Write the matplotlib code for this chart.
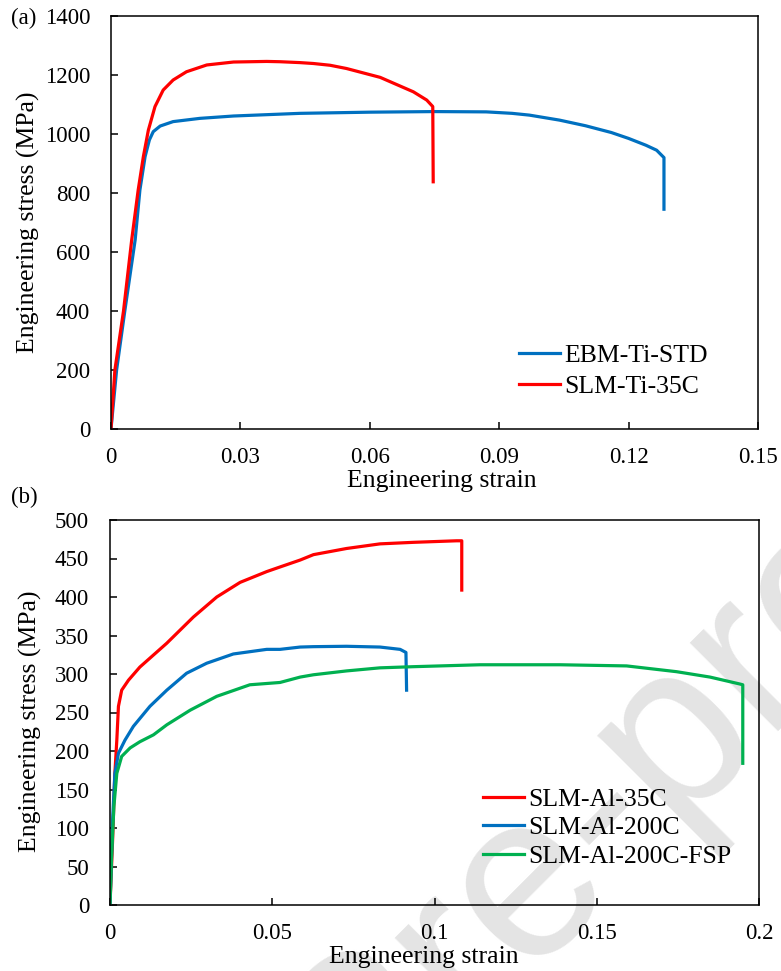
import numpy as np
import matplotlib.pyplot as plt

plt.rcParams['font.family'] = ['Liberation Serif', 'DejaVu Serif']
plt.rcParams['font.size'] = 16.5

# (a) Ti alloys: engineering strain / stress (MPa)
ebm_ti_std_x = [0, 0.0013, 0.0032, 0.0056, 0.0067, 0.0079, 0.0089, 0.0098, 0.0114, 0.0144, 0.0206,
                0.0284, 0.0438, 0.06, 0.075, 0.087, 0.093, 0.097, 0.104, 0.11, 0.116, 0.12, 0.124,
                0.1265, 0.1282, 0.1282]
ebm_ti_std_y = [0, 200, 400, 641, 810, 923, 980, 1008, 1027, 1042, 1053,
                1061, 1070, 1074, 1076, 1075, 1070, 1064, 1047, 1028, 1005, 985, 962,
                945, 920, 745]
slm_ti_35c_x = [0, 0.0009, 0.0029, 0.0048, 0.0063, 0.0075, 0.00866, 0.0102, 0.0121, 0.0144, 0.0175,
                0.0222, 0.0284, 0.0361, 0.0392, 0.0438, 0.0469, 0.0508, 0.0546, 0.0624, 0.0701,
                0.0732, 0.0746, 0.0747]
slm_ti_35c_y = [0, 200, 400, 641, 810, 923, 1013, 1093, 1149, 1183, 1211,
                1234, 1244, 1246, 1245, 1242, 1239, 1233, 1222, 1192, 1143,
                1115, 1093, 838]

# (b) Al alloys
slm_al_35c_x = [0, 0.0008, 0.0015, 0.0021, 0.0026, 0.0036, 0.0057, 0.0092, 0.0175, 0.0257, 0.0329,
                0.0401, 0.0483, 0.0524, 0.0586, 0.0627, 0.0729, 0.0832, 0.0935, 0.1068, 0.1084, 0.1084]
slm_al_35c_y = [0, 84, 171, 214, 258, 279, 292, 309, 340, 374, 400,
                419, 433, 439, 448, 455, 463, 469, 471, 473, 473, 409]
slm_al_200c_x = [0, 0.0008, 0.0015, 0.0026, 0.0046, 0.0072, 0.0123, 0.0175, 0.0236, 0.0298, 0.038,
                 0.0483, 0.0524, 0.0586, 0.0627, 0.0729, 0.0832, 0.0894, 0.0912, 0.0914]
slm_al_200c_y = [0, 110, 171, 197, 214, 232, 258, 279, 301, 314, 326,
                 332, 332, 335, 335.5, 336, 335, 332, 328, 279]
slm_al_200c_fsp_x = [0, 0.0005, 0.0012, 0.0021, 0.0036, 0.0062, 0.0092, 0.0134, 0.0175, 0.0247,
                     0.0329, 0.0431, 0.0524, 0.0586, 0.0627, 0.0729, 0.0832, 0.0935, 0.114, 0.1387,
                     0.1592, 0.1746, 0.1849, 0.1941, 0.195, 0.195]
slm_al_200c_fsp_y = [0, 63, 128, 171, 193, 204, 212, 221, 234, 253,
                     271, 286, 289, 296, 299, 304, 308, 309.5, 312, 312,
                     310.5, 303, 296, 287, 286, 184]

ti_xticks = [0, 0.03, 0.06, 0.09, 0.12, 0.15]
ti_xlabels = ['0', '0.03', '0.06', '0.09', '0.12', '0.15']
ti_yticks = [0, 200, 400, 600, 800, 1000, 1200, 1400]
al_xticks = [0, 0.05, 0.1, 0.15, 0.2]
al_xlabels = ['0', '0.05', '0.1', '0.15', '0.2']
al_yticks = [0, 50, 100, 150, 200, 250, 300, 350, 400, 450, 500]

blue = '#0070C0'
red = '#FF0000'
green = '#00B050'

W, H = 781, 971
fig = plt.figure(figsize=(W / 100, H / 100), dpi=100)

# watermark behind both panels (baseline start given in pixels)
fig.text(-229 / W, 1 - 1738 / H, 'Journal Pre-proof', family='Liberation Sans', fontsize=169,
         color='#e4e4e4', rotation=45, rotation_mode='anchor', ha='left', va='baseline', zorder=-5)


def panel(rect):
    l, t, r, b = rect
    ax = fig.add_axes([l / W, 1 - b / H, (r - l) / W, (b - t) / H])
    ax.patch.set_alpha(0)
    for s in ax.spines.values():
        s.set_linewidth(1.1)
    ax.tick_params(direction='in', length=5, width=1.1)
    ax.tick_params(axis='x', pad=13)
    ax.tick_params(axis='y', pad=15)
    return ax


def put_legend(ax, x, y, spacing):
    ax.legend(loc='upper left', bbox_to_anchor=(x / W, 1 - y / H), bbox_transform=fig.transFigure,
              frameon=False, fontsize=18.5, handlelength=1.6, handletextpad=0.15,
              labelspacing=spacing, borderpad=0, borderaxespad=0)


ax1 = panel((111, 16, 758, 429))
ax1.plot(ebm_ti_std_x, ebm_ti_std_y, color=blue, lw=2.3, label='EBM-Ti-STD')
ax1.plot(slm_ti_35c_x, slm_ti_35c_y, color=red, lw=2.3, label='SLM-Ti-35C')
ax1.set_xlim(0, 0.15)
ax1.set_ylim(0, 1400)
ax1.set_xticks(ti_xticks)
ax1.set_xticklabels(ti_xlabels)
ax1.set_yticks(ti_yticks)
ax1.set_xlabel('Engineering strain', fontsize=18.5, va='center')
ax1.set_ylabel('Engineering stress (MPa)', fontsize=18.5, va='center')
ax1.xaxis.set_label_coords(0.511, -0.126)
ax1.yaxis.set_label_coords(-0.127, 0.5)
put_legend(ax1, 519, 344, 0.33)
fig.text(11 / W, 1 - 18 / H, '(a)', va='center', ha='left')

ax2 = panel((110, 520, 759, 905))
ax2.plot(slm_al_35c_x, slm_al_35c_y, color=red, lw=2.3, label='SLM-Al-35C')
ax2.plot(slm_al_200c_x, slm_al_200c_y, color=blue, lw=2.3, label='SLM-Al-200C')
ax2.plot(slm_al_200c_fsp_x, slm_al_200c_fsp_y, color=green, lw=2.3, label='SLM-Al-200C-FSP')
ax2.set_xlim(0, 0.2)
ax2.set_ylim(0, 500)
ax2.set_xticks(al_xticks)
ax2.set_xticklabels(al_xlabels)
ax2.set_yticks(al_yticks)
ax2.set_xlabel('Engineering strain', fontsize=18.5, va='center')
ax2.set_ylabel('Engineering stress (MPa)', fontsize=18.5, va='center')
ax2.xaxis.set_label_coords(0.484, -0.135)
ax2.yaxis.set_label_coords(-0.122, 0.478)
put_legend(ax2, 483, 788, 0.21)
fig.text(11 / W, 1 - 497 / H, '(b)', va='center', ha='left')

fig.savefig('out.png', dpi=100)
